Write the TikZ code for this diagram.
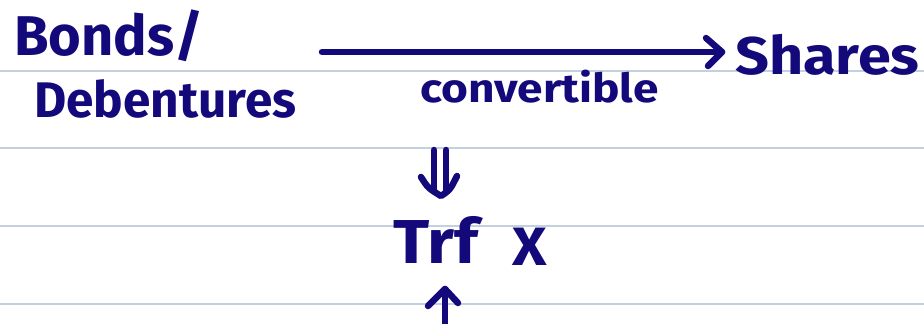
\documentclass[tikz,border=0pt]{standalone}
\usepackage{fontspec}
\setmainfont{Fira Sans}
\usetikzlibrary{arrows.meta}
\definecolor{ink}{HTML}{13097A}
\definecolor{rule}{HTML}{C3D0E0}
\newcommand\hstretch[2]{\scalebox{#1}[1]{#2}}
\begin{document}
\begin{tikzpicture}[x=1pt,y=-1pt,
  hand/.style={text=ink,inner sep=0pt,font=\bfseries},
  pen/.style={draw=ink,line width=6.5pt,line cap=round,line join=round},
  ruling/.style={draw=rule,line width=1.6pt}]
\useasboundingbox (0,0) rectangle (924,324);
\fill[white] (0,0) rectangle (924,324);
\foreach \y/\n in {71/r1,148/r2,226/r3,304/r4}{
  \coordinate (\n l) at (0,\y); \coordinate (\n r) at (924,\y);
  \draw[ruling] (\n l) -- (\n r);}
\node[hand,anchor=base west,font=\fontsize{56}{56}\selectfont\bfseries] (bonds) at (14,55) {Bonds/};
\node[hand,anchor=base west,font=\fontsize{50}{50}\selectfont\bfseries] (deb) at (34,117) {\hstretch{0.99}{Debentures}};
\node[hand,anchor=base west,font=\fontsize{53}{53}\selectfont\bfseries] (shares) at (735,74) {\hstretch{1.12}{Shares}};
\node[hand,anchor=base west,font=\fontsize{40}{40}\selectfont\bfseries] (conv) at (420,102) {\hstretch{1.15}{convertible}};
\node[hand,anchor=base west,font=\fontsize{62}{62}\selectfont\bfseries] (trf) at (393,263) {\hstretch{1.08}{Trf}};
\node[hand,anchor=base west,font=\fontsize{54}{54}\selectfont\bfseries] (x) at (512,265) {\hstretch{1.1}{X}};
% main arrow
\coordinate (a1) at (322,52);
\coordinate (a2) at (722,52);
\draw[pen] (a1) -- (a2);
\coordinate (h1) at (706,38); \coordinate (h2) at (708,66);
\draw[pen] (h1) -- (a2) -- (h2);
% double down arrow
\coordinate (d1s) at (434,150); \coordinate (d1e) at (434,190);
\coordinate (d2s) at (446,150); \coordinate (d2e) at (446,190);
\draw[pen] (d1s) -- (d1e);
\draw[pen] (d2s) -- (d2e);
\coordinate (dl) at (421,177); \coordinate (dt) at (441,196); \coordinate (dr) at (457,176);
\draw[pen] (dl) .. controls (428,188) .. (dt) .. controls (450,190) .. (dr);
% up arrow
\coordinate (us) at (445,324); \coordinate (ut) at (445,289);
\draw[pen] (us) -- (ut);
\coordinate (ul) at (428,306); \coordinate (ur) at (458,303);
\draw[pen] (ul) -- (ut) -- (ur);
\end{tikzpicture}
\end{document}
